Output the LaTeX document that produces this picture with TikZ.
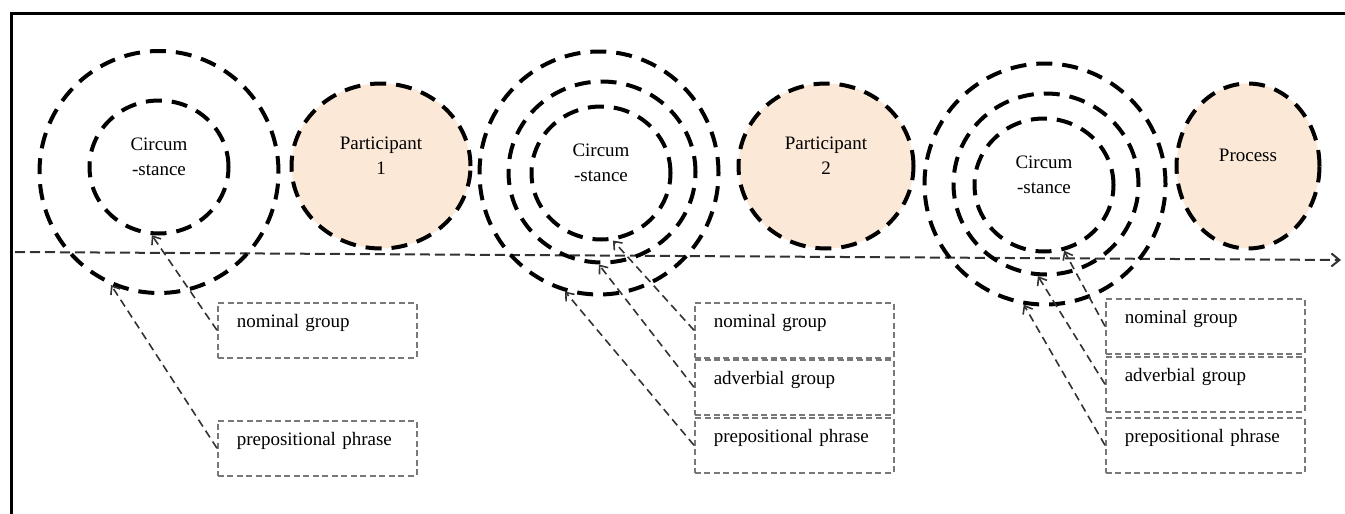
\documentclass[tikz,border=0pt]{standalone}
\usepackage{fontspec}
\setmainfont{Liberation Serif}
\usetikzlibrary{shapes.geometric,arrows.meta}
\definecolor{peach}{RGB}{252,232,214}
\definecolor{boxgray}{RGB}{120,120,120}
\definecolor{linegray}{RGB}{50,50,50}
\newcommand{\ctext}[1]{\raisebox{5pt}[0pt][0pt]{\begin{tabular}{@{}c@{}}#1\end{tabular}}}
\tikzset{
  ring/.style={ellipse, draw=black, line width=4pt, dash pattern=on 16pt off 10pt, inner sep=0pt},
  partic/.style={ring, fill=peach},
  labbox/.style={rectangle, draw=boxgray, line width=1.5pt, dash pattern=on 6pt off 3.5pt, anchor=north west,
     minimum height=55pt, inner xsep=19pt, text width=161pt, align=left, text height=13pt, text depth=18pt},
  conn/.style={draw=linegray, line width=1.6pt, dash pattern=on 8pt off 5pt, -{Straight Barb[length=7pt,width=11pt,line width=1.6pt]}},
  axis/.style={draw=linegray, line width=2pt, dash pattern=on 10pt off 5pt, -{Straight Barb[length=8pt,width=13pt,line width=2pt]}},
  frame/.style={draw=black, line width=3pt}
}
\begin{document}
\begin{tikzpicture}[x=1pt,y=-1pt,font=\fontsize{19}{25}\selectfont]
\useasboundingbox (0,0) rectangle (1345,514);
\draw[frame] (11,514) -- (11,13) -- (1345,13);
% axis line
\coordinate (axstart) at (15,252);
\coordinate (axend) at (1341,260);
\draw[axis] (axstart) -- (axend);
% group 1
\node[ring, minimum width=239pt, minimum height=242pt] (c1out) at (159,172) {};
\node[ring, minimum width=139pt, minimum height=133pt] (c1in) at (159,167) {\ctext{Circum\\-stance}};
\node[partic, minimum width=179pt, minimum height=165pt] (p1) at (381,166) {\ctext{Participant\\1}};
% group 2
\node[ring, minimum width=239pt, minimum height=243pt] (c2out) at (599,173) {};
\node[ring, minimum width=187pt, minimum height=181pt] (c2mid) at (602,172) {};
\node[ring, minimum width=139pt, minimum height=133pt] (c2in) at (601,173) {\ctext{Circum\\-stance}};
\node[partic, minimum width=175pt, minimum height=165pt] (p2) at (826,166) {\ctext{Participant\\2}};
% group 3
\node[ring, minimum width=241pt, minimum height=241pt] (c3out) at (1045,184) {};
\node[ring, minimum width=185pt, minimum height=181pt] (c3mid) at (1046,184) {};
\node[ring, minimum width=139pt, minimum height=133pt] (c3in) at (1044,185) {\ctext{Circum\\-stance}};
\node[partic, minimum width=143pt, minimum height=165pt] (proc) at (1248,166) {\ctext{Process}};
% boxes
\node[labbox] (b1n) at (217,302) {nominal group};
\node[labbox] (b1p) at (217,420) {prepositional phrase};
\node[labbox] (b2n) at (694,302) {nominal group};
\node[labbox] (b2a) at (694,359) {adverbial group};
\node[labbox] (b2p) at (694,417) {prepositional phrase};
\node[labbox] (b3n) at (1105,298) {nominal group};
\node[labbox] (b3a) at (1105,356) {adverbial group};
\node[labbox] (b3p) at (1105,417) {prepositional phrase};
% connectors
\draw[conn] (b1n.west) -- (c1in.-96);
\draw[conn] (b1p.west) -- (c1out.-113);
\draw[conn] (b2n.west) -- (c2in.-80);
\draw[conn] (b2a.west) -- (c2mid.-92);
\draw[conn] (b2p.west) -- (c2out.-106);
\draw[conn] (b3n.west) -- (c3in.-73);
\draw[conn] (b3a.west) -- (c3mid.-95);
\draw[conn] (b3p.west) -- (c3out.-100);
\end{tikzpicture}
\end{document}
